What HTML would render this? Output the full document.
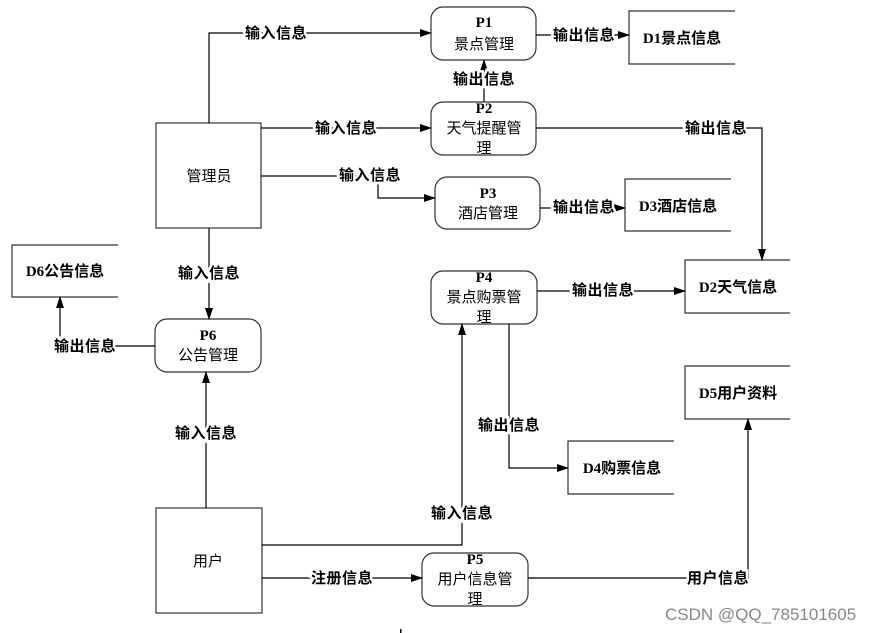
<!DOCTYPE html>
<html><head><meta charset="utf-8"><style>
html,body{margin:0;padding:0;background:#fff;}
svg{display:block;}
text{font-family:"Liberation Serif","Noto Sans CJK SC",serif;font-size:15px;fill:#000;}
.b{font-weight:bold;}
.l{font-weight:bold;paint-order:stroke;stroke:#fff;stroke-width:5px;letter-spacing:0.5px;}
</style></head><body>
<svg width="874" height="633" viewBox="0 0 874 633" xmlns="http://www.w3.org/2000/svg">
<defs><marker id="a" markerWidth="12" markerHeight="10" refX="11" refY="4" orient="auto" markerUnits="userSpaceOnUse"><path d="M0,0 L12,4 L0,8 Z" fill="#000"/></marker></defs>
<g fill="none" stroke="#333" stroke-width="1.2">
<rect x="156" y="123" width="105" height="105" fill="#fff"/>
<rect x="156" y="508" width="106" height="105" fill="#fff"/>
<rect x="431" y="7" width="105" height="53" rx="12" fill="#fff"/>
<rect x="431" y="102" width="105" height="53" rx="12" fill="#fff"/>
<rect x="435" y="177" width="105" height="52" rx="12" fill="#fff"/>
<rect x="431" y="271" width="106" height="53" rx="12" fill="#fff"/>
<rect x="422" y="553" width="106" height="53" rx="12" fill="#fff"/>
<rect x="155" y="319" width="106" height="53" rx="12" fill="#fff"/>
<path d="M735,11 H629 V64 H735"/>
<path d="M731,179 H625 V231 H731"/>
<path d="M790,260 H685 V313 H790"/>
<path d="M790,366 H685 V419 H790"/>
<path d="M674,441 H568 V494 H674"/>
<path d="M118,245 H12 V297 H118"/>
</g>
<g fill="none" stroke="#000" stroke-width="1.2">
<path d="M209,123 V33 H431" marker-end="url(#a)"/>
<path d="M261,128 H431" marker-end="url(#a)"/>
<path d="M261,176 H378 V198 H435" marker-end="url(#a)"/>
<path d="M536,35 H629" marker-end="url(#a)"/>
<path d="M484,102 V60" marker-end="url(#a)"/>
<path d="M536,128 H762 V260" marker-end="url(#a)"/>
<path d="M540,208 H625" marker-end="url(#a)"/>
<path d="M537,291 H685" marker-end="url(#a)"/>
<path d="M509,324 V468 H568" marker-end="url(#a)"/>
<path d="M262,545 H462 V324" marker-end="url(#a)"/>
<path d="M262,578 H422" marker-end="url(#a)"/>
<path d="M528,578 H748 V419" marker-end="url(#a)"/>
<path d="M206,508 V372" marker-end="url(#a)"/>
<path d="M209,228 V319" marker-end="url(#a)"/>
<path d="M155,346 H60 V297" marker-end="url(#a)"/>
</g>
<g text-anchor="middle">
<text x="209" y="181">管理员</text>
<text x="208" y="566">用户</text>
<text class="b" x="484" y="27">P1</text><text x="484" y="49">景点管理</text>
<text class="b" x="484" y="113">P2</text><text x="484" y="133">天气提醒管</text><text x="484" y="153">理</text>
<text class="b" x="488" y="198">P3</text><text x="488" y="218">酒店管理</text>
<text class="b" x="484" y="282">P4</text><text x="484" y="302">景点购票管</text><text x="484" y="322">理</text>
<text class="b" x="475" y="564">P5</text><text x="475" y="584">用户信息管</text><text x="475" y="604">理</text>
<text class="b" x="208" y="340">P6</text><text x="208" y="360">公告管理</text>
<text class="b" x="682" y="43">D1景点信息</text>
<text class="b" x="678" y="211">D3酒店信息</text>
<text class="b" x="738" y="292">D2天气信息</text>
<text class="b" x="738" y="398">D5用户资料</text>
<text class="b" x="622" y="473">D4购票信息</text>
<text class="b" x="65" y="276">D6公告信息</text>
<text class="l" x="276" y="38">输入信息</text>
<text class="l" x="346" y="133">输入信息</text>
<text class="l" x="370" y="180">输入信息</text>
<text class="l" x="584" y="40">输出信息</text>
<text class="l" x="484" y="84">输出信息</text>
<text class="l" x="716" y="133">输出信息</text>
<text class="l" x="584" y="212">输出信息</text>
<text class="l" x="603" y="295">输出信息</text>
<text class="l" x="509" y="430">输出信息</text>
<text class="l" x="462" y="518">输入信息</text>
<text class="l" x="342" y="583">注册信息</text>
<text class="l" x="718" y="583">用户信息</text>
<text class="l" x="206" y="438">输入信息</text>
<text class="l" x="209" y="278">输入信息</text>
<text class="l" x="85" y="351">输出信息</text>
</g>
<text x="665" y="620" style="font-family:'Liberation Sans',sans-serif;font-size:17px;fill:#888;">CSDN @QQ_785101605</text>
<rect x="400" y="629" width="1.5" height="4" fill="#000"/>
</svg>
</body></html>
